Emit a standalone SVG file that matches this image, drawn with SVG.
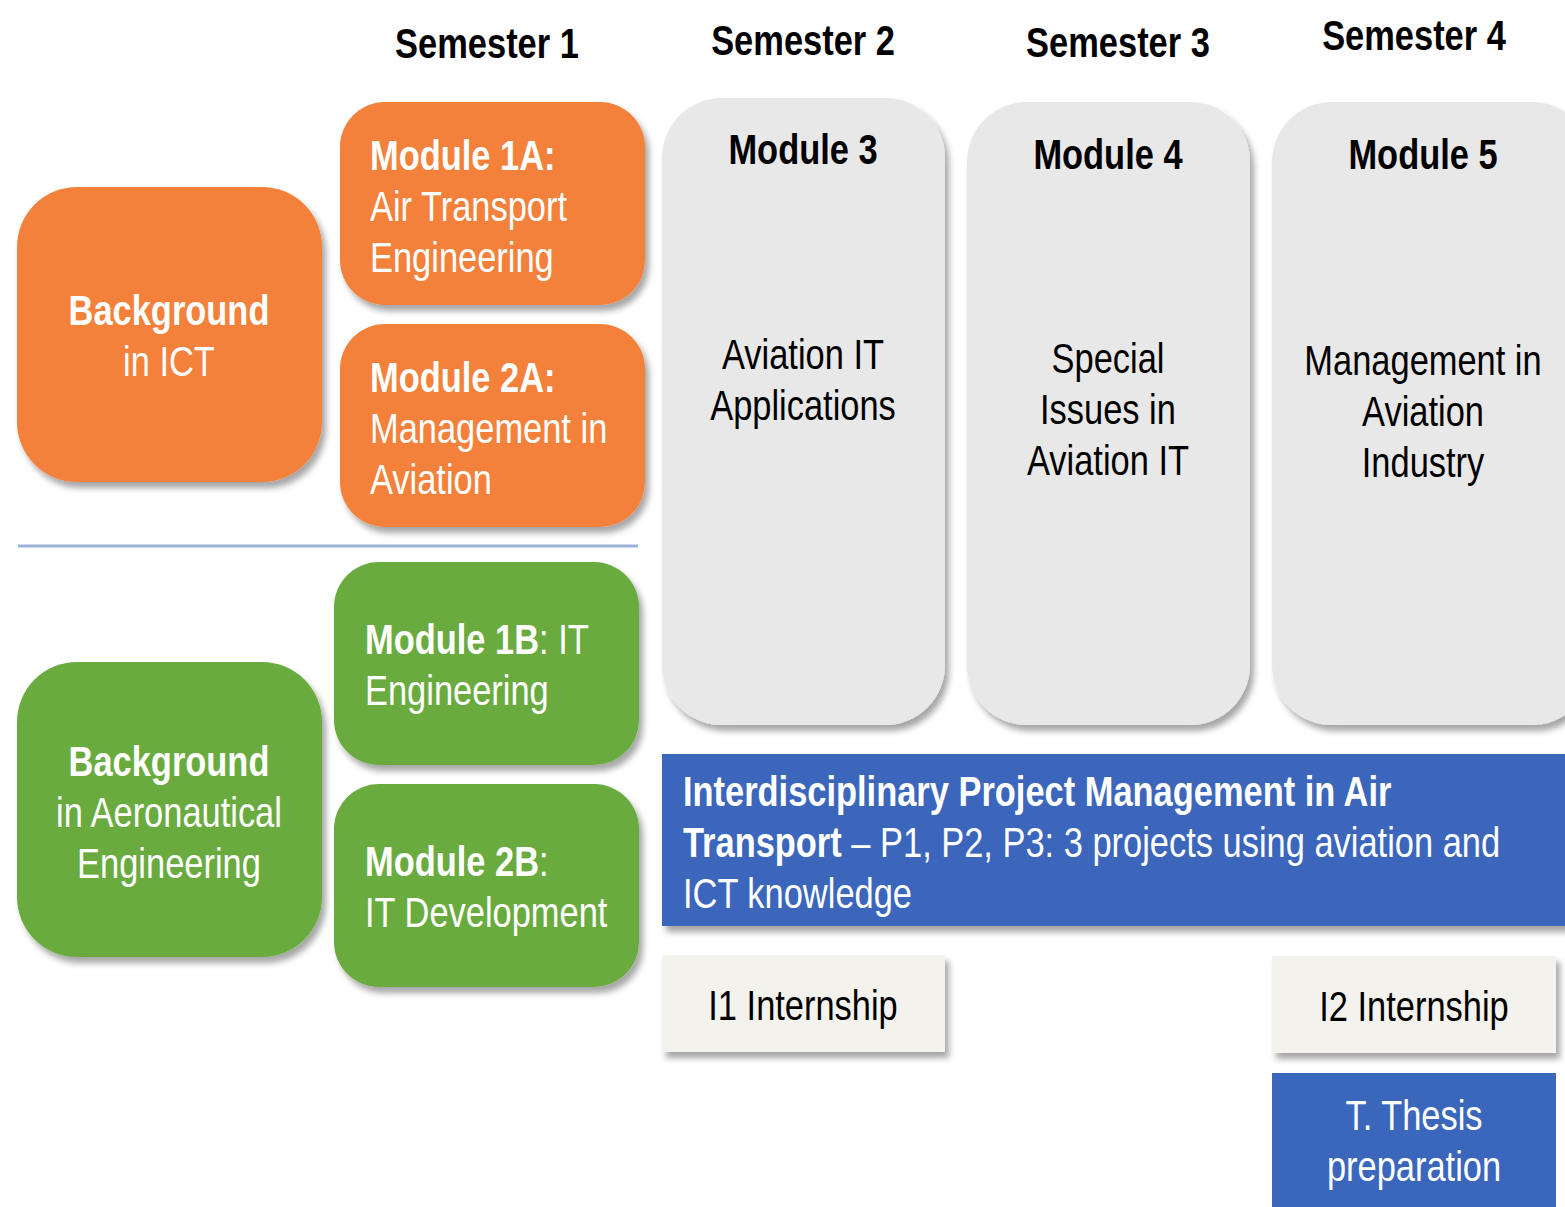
<svg xmlns="http://www.w3.org/2000/svg" width="1565" height="1207" viewBox="0 0 1565 1207">
<defs>
<filter id="sh" x="-10%" y="-10%" width="130%" height="130%">
<feDropShadow dx="4" dy="6" stdDeviation="3" flood-color="#000" flood-opacity="0.35"/>
</filter>
<style>
text{font-family:"Liberation Sans",Arial,sans-serif;font-size:42px}
.b{font-weight:bold}
.w{fill:#fff}
.k{fill:#000}
.c{text-anchor:middle}
.or{fill:#F3813A}
.gr{fill:#6AAB40}
.gy{fill:#E8E8E8}
.bl{fill:#3A66BC}
.iv{fill:#F3F2EC}
.hd{font-size:42px;font-weight:bold}
</style>
</defs>
<rect width="1565" height="1207" fill="#fff"/>

<g id="headers" transform="scale(0.82 1)">
<text class="hd c k" x="593.9" y="58">Semester 1</text>
<text class="hd c k" x="979.3" y="55">Semester 2</text>
<text class="hd c k" x="1363.4" y="57">Semester 3</text>
<text class="hd c k" x="1724.4" y="50">Semester 4</text>
</g>

<g id="connectors">
<line x1="18" y1="546" x2="638" y2="546" stroke="#9BB3D6" stroke-width="3"/>
</g>

<g id="bg-ict">
<rect class="or" x="17" y="187" width="305" height="295" rx="60" filter="url(#sh)"/>
<g transform="scale(0.82 1)">
<text class="c w b" x="206.1" y="325">Background</text>
<text class="c w" x="206.1" y="376">in ICT</text>
</g>
</g>

<g id="m1a">
<rect class="or" x="340" y="102" width="305" height="203" rx="45" filter="url(#sh)"/>
<g transform="scale(0.82 1)">
<text class="w b" x="451.2" y="170">Module 1A:</text>
<text class="w" x="451.2" y="221">Air Transport</text>
<text class="w" x="451.2" y="272">Engineering</text>
</g>
</g>

<g id="m2a">
<rect class="or" x="340" y="324" width="305" height="203" rx="45" filter="url(#sh)"/>
<g transform="scale(0.82 1)">
<text class="w b" x="451.2" y="392">Module 2A:</text>
<text class="w" x="451.2" y="443">Management in</text>
<text class="w" x="451.2" y="494">Aviation</text>
</g>
</g>

<g id="m1b">
<rect class="gr" x="334" y="562" width="305" height="203" rx="45" filter="url(#sh)"/>
<g transform="scale(0.82 1)">
<text class="w" x="445.1" y="654"><tspan class="b">Module 1B</tspan>: IT</text>
<text class="w" x="445.1" y="705">Engineering</text>
</g>
</g>

<g id="m2b">
<rect class="gr" x="334" y="784" width="305" height="203" rx="45" filter="url(#sh)"/>
<g transform="scale(0.82 1)">
<text class="w" x="445.1" y="876"><tspan class="b">Module 2B</tspan>:</text>
<text class="w" x="445.1" y="927">IT Development</text>
</g>
</g>

<g id="bg-aero">
<rect class="gr" x="17" y="662" width="305" height="295" rx="60" filter="url(#sh)"/>
<g transform="scale(0.82 1)">
<text class="c w b" x="206.1" y="776">Background</text>
<text class="c w" x="206.1" y="827">in Aeronautical</text>
<text class="c w" x="206.1" y="878">Engineering</text>
</g>
</g>

<g id="m3">
<rect class="gy" x="662" y="98" width="283" height="627" rx="60" filter="url(#sh)"/>
<g transform="scale(0.82 1)">
<text class="c k b" x="979.3" y="164">Module 3</text>
<text class="c k" x="979.3" y="369">Aviation IT</text>
<text class="c k" x="979.3" y="420">Applications</text>
</g>
</g>

<g id="m4">
<rect class="gy" x="967" y="102" width="283" height="623" rx="60" filter="url(#sh)"/>
<g transform="scale(0.82 1)">
<text class="c k b" x="1351.2" y="169">Module 4</text>
<text class="c k" x="1351.2" y="373">Special</text>
<text class="c k" x="1351.2" y="424">Issues in</text>
<text class="c k" x="1351.2" y="475">Aviation IT</text>
</g>
</g>

<g id="m5">
<rect class="gy" x="1272" y="102" width="320" height="623" rx="60" filter="url(#sh)"/>
<g transform="scale(0.82 1)">
<text class="c k b" x="1735.4" y="169">Module 5</text>
<text class="c k" x="1735.4" y="375">Management in</text>
<text class="c k" x="1735.4" y="426">Aviation</text>
<text class="c k" x="1735.4" y="477">Industry</text>
</g>
</g>

<g id="project">
<rect class="bl" x="662" y="754" width="920" height="172" filter="url(#sh)"/>
<g transform="scale(0.82 1)">
<text class="w b" x="832.9" y="806">Interdisciplinary Project Management in Air</text>
<text class="w" x="832.9" y="857"><tspan class="b">Transport</tspan> – P1, P2, P3: 3 projects using aviation and</text>
<text class="w" x="832.9" y="908">ICT knowledge</text>
</g>
</g>

<g id="i1">
<rect class="iv" x="662" y="955" width="283" height="97" filter="url(#sh)"/>
<g transform="scale(0.82 1)">
<text class="c k" x="979.3" y="1020">I1 Internship</text>
</g>
</g>

<g id="i2">
<rect class="iv" x="1272" y="956" width="284" height="97" filter="url(#sh)"/>
<g transform="scale(0.82 1)">
<text class="c k" x="1724.4" y="1021">I2 Internship</text>
</g>
</g>

<g id="thesis">
<rect class="bl" x="1272" y="1073" width="284" height="140"/>
<g transform="scale(0.82 1)">
<text class="c w" x="1724.4" y="1130">T. Thesis</text>
<text class="c w" x="1724.4" y="1181">preparation</text>
</g>
</g>
</svg>
